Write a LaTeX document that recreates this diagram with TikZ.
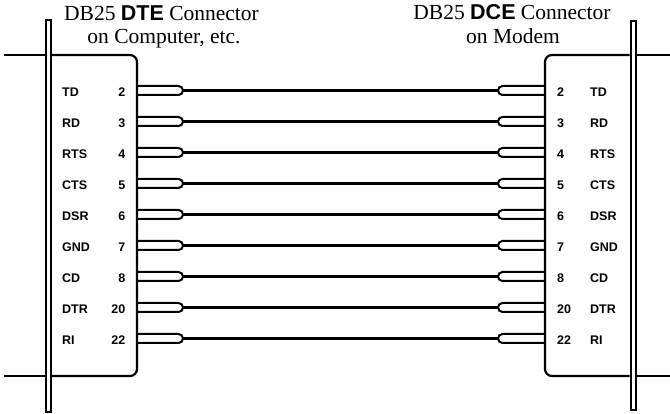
\documentclass[tikz,border=0pt]{standalone}
\usepackage{fontspec}
\setmainfont{Liberation Serif}
\setsansfont{Liberation Sans}
\usetikzlibrary{positioning,calc}

\begin{document}
\begin{tikzpicture}[x=1pt,y=-1pt,
                % Styles for the connector bodies
                shell/.style={draw=black, line width=2.2pt, rounded corners=7pt},
                flange/.style={draw=black, line width=2pt},
                % Style for pins and wires
                pinshape/.style={draw=black, line width=2pt, rounded corners=4.5pt},
                wire/.style={draw=black, line width=2.2pt},
                % Labels
                siglabel/.style={font=\sffamily\bfseries\fontsize{12.5}{14}\selectfont, inner sep=0pt},
                titlelabel/.style={font=\fontsize{21.5}{24}\selectfont, inner sep=0pt, anchor=base}
            ]
                \useasboundingbox (0,0) rectangle (670,414);

                % --- TITLES ---
                \node[titlelabel] (dtetitle) at (161.5,20.5) {DB25 {\sffamily\bfseries DTE} Connector};
                \node[titlelabel] (dtesub) at (164,43.5) {on Computer, etc.};
                \node[titlelabel] (dcetitle) at (512,20) {DB25 {\sffamily\bfseries DCE} Connector};
                \node[titlelabel] (dcesub) at (513,44) {on Modem};

                % --- LEFT CONNECTOR (DTE) ---
                \draw[flange] (45.5,20) rectangle (50.5,412);
                \draw[wire] (4,55) -- (44.5,55);
                \draw[wire] (4,376) -- (44.5,376);
                \draw[shell] (51.5,55) -- (137,55) -- (137,376) -- (51.5,376);

                % --- RIGHT CONNECTOR (DCE) ---
                \draw[flange] (630.5,21) rectangle (635.5,410);
                \draw[wire] (636.5,55) -- (670,55);
                \draw[wire] (636.5,376) -- (670,376);
                \draw[shell] (629.5,55) -- (545,55) -- (545,376) -- (629.5,376);

                % --- PINS, LABELS AND WIRES ---
                \foreach \sig/\pin [count=\i] in {TD/2,RD/3,RTS/4,CTS/5,DSR/6,GND/7,CD/8,DTR/20,RI/22}{
                    \pgfmathsetmacro{\y}{90.5+31*(\i-1)}
                    % left side
                    \draw[pinshape] (137,\y-4.5) -- (183,\y-4.5) -- (183,\y+4.5) -- (137,\y+4.5);
                    \coordinate (L\i) at (183,\y);
                    \node[siglabel, anchor=west] (lsig\i) at (62,\y+2) {\sig};
                    \node[siglabel, anchor=east] (lpin\i) at (125.5,\y+2) {\pin};
                    % right side
                    \draw[pinshape] (545,\y-4.5) -- (498,\y-4.5) -- (498,\y+4.5) -- (545,\y+4.5);
                    \coordinate (R\i) at (498,\y);
                    \node[siglabel, anchor=west] (rpin\i) at (557,\y+2) {\pin};
                    \node[siglabel, anchor=west] (rsig\i) at (590,\y+2) {\sig};
                    % straight-through wire
                    \draw[wire] (L\i) -- (R\i);
                }

            \end{tikzpicture}
\end{document}
